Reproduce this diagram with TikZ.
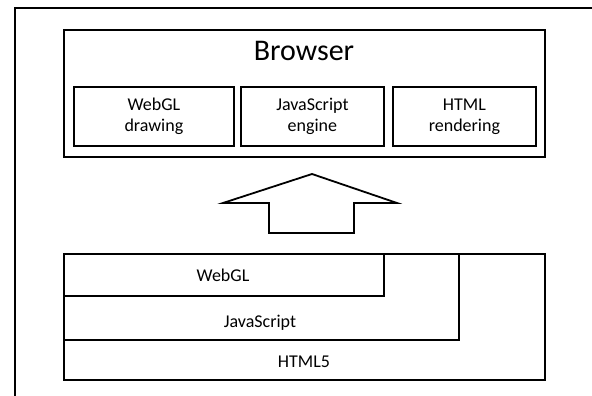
\documentclass[tikz,border=0pt]{standalone}
\usepackage{fontspec}
\setmainfont{Carlito}
\usetikzlibrary{positioning}
\tikzset{
	box/.style={draw, line width=1.8pt, inner sep=0pt},
	part/.style={draw, line width=1.8pt, inner sep=0pt, minimum width=160pt, minimum height=59pt, align=center, font=\fontsize{18}{21}\selectfont},
	layer/.style={draw, line width=1.8pt, inner sep=0pt, anchor=north west},
	tag/.style={inner sep=0pt, font=\fontsize{18}{21}\selectfont}
}
\begin{document}
\begin{tikzpicture}[x=1pt, y=-1pt]
		\useasboundingbox (0,0) rectangle (592,396);
		% frame
		\draw[line width=1.8pt] (15,396) -- (15,8) -- (592,8);
		
		% Browser
		\node[box, minimum width=481pt, minimum height=127pt, anchor=north west] (browser) at (63,29) {};
		\node[inner sep=0pt, font=\fontsize{30}{35}\selectfont] (title) at (304,51) {Browser};
		\node[part, minimum width=160pt, anchor=north west] (webgl) at (73,86) {WebGL\\drawing};
		\node[part, minimum width=143pt, anchor=north west] (js) at (240,86) {JavaScript\\engine};
		\node[part, minimum width=143pt, anchor=north west] (html) at (392,86) {HTML\\rendering};
		
		% arrow
		\draw[line width=1.8pt] (312,174) -- (397,203) -- (354,203) -- (354,233) -- (269,233) -- (269,203) -- (223,203) -- cycle;
		
		% layers
		\node[layer, minimum width=481pt, minimum height=126pt] (html5) at (63,253) {};
		\node[layer, minimum width=395pt, minimum height=86pt] (jslayer) at (63,253) {};
		\node[layer, minimum width=320pt, minimum height=42pt] (webgllayer) at (63,253) {};
		\node[tag] (webgltag) at (223,275) {WebGL};
		\node[tag] (jstag) at (260,323) {JavaScript};
		\node[tag] (html5tag) at (304,362) {HTML5};
		
	\end{tikzpicture}
\end{document}
